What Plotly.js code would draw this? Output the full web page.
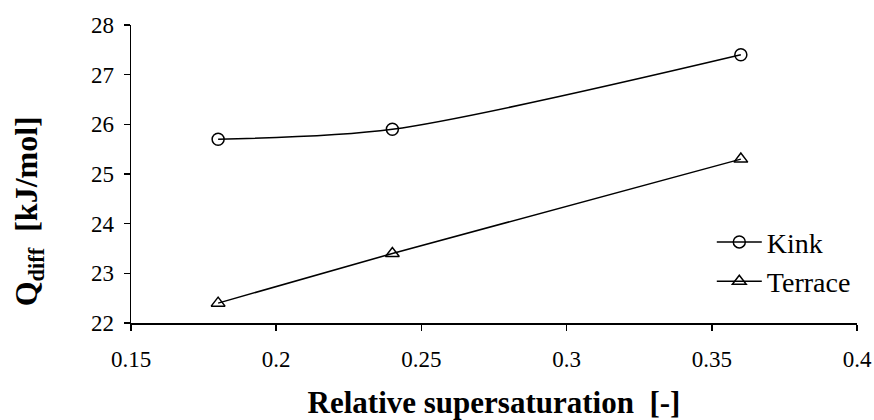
<!DOCTYPE html>
<html><head><meta charset="utf-8">
<script src="https://cdn.plot.ly/plotly-3.0.1.min.js"></script>
<style>body{margin:0;background:#fff}#c{width:874px;height:420px}</style>
</head><body><div id="c"></div>
<script>
const supersaturation = [0.18, 0.24, 0.36];
const kinkQ = [25.7, 25.9, 27.4];
const terraceQ = [22.4, 23.4, 25.3];
const xTicks = [0.15, 0.2, 0.25, 0.3, 0.35, 0.4];
const xTickLabels = ['0.15', '0.2', '0.25', '0.3', '0.35', '0.4'];
const yTicks = [22, 23, 24, 25, 26, 27, 28];
const xTitle = '<b>Relative supersaturation  [-]</b>';
const yTitle = '<b>Q<sub>diff</sub>  [kJ/mol]</b>';

const font = "'Times New Roman', 'Liberation Serif', 'DejaVu Serif', serif";
const traces = [
  {x: supersaturation, y: kinkQ, name: 'Kink', mode: 'lines+markers',
   line: {color: '#000', width: 1.5, shape: 'spline', smoothing: 0.8},
   marker: {symbol: 'circle-open', size: 12, color: '#000', line: {width: 1.5}}},
  {x: supersaturation, y: terraceQ, name: 'Terrace', mode: 'lines+markers',
   line: {color: '#000', width: 1.5, shape: 'spline', smoothing: 0.8},
   marker: {symbol: 'triangle-up-open', size: 12, color: '#000', line: {width: 1.5}}}
];
const layout = {
  width: 874, height: 420,
  margin: {l: 131, r: 17, t: 25, b: 97},
  paper_bgcolor: '#fff', plot_bgcolor: '#fff',
  font: {family: font, size: 22, color: '#000'},
  showlegend: true,
  legend: {x: 0.80, y: 0.355, xanchor: 'left', yanchor: 'top', bgcolor: 'rgba(0,0,0,0)',
           itemwidth: 45,
           font: {family: font, size: 28, color: '#000'}, tracegroupgap: 0},
  xaxis: {range: [0.15, 0.4], tickvals: xTicks, ticktext: xTickLabels,
          showgrid: false, zeroline: false, showline: true, linecolor: '#000', linewidth: 1.5,
          ticks: 'outside', ticklen: 6, tickwidth: 1.5, tickcolor: '#000',
          ticklabelstandoff: 9,
          tickfont: {family: font, size: 23},
          title: {text: xTitle, font: {family: font, size: 31}, standoff: 21}},
  yaxis: {range: [22, 28], tickvals: yTicks,
          showgrid: false, zeroline: false, showline: true, linecolor: '#000', linewidth: 1.5,
          ticks: 'outside', ticklen: 6, tickwidth: 1.5, tickcolor: '#000',
          ticklabelstandoff: 5,
          tickfont: {family: font, size: 23}},
  annotations: [{text: yTitle, textangle: -90, xref: 'paper', yref: 'paper',
                 x: -0.14, y: 0.376, xanchor: 'center', yanchor: 'middle', showarrow: false,
                 font: {family: font, size: 32, color: '#000'}}]
};
Plotly.newPlot('c', traces, layout, {displayModeBar: false, staticPlot: true});
</script></body></html>
